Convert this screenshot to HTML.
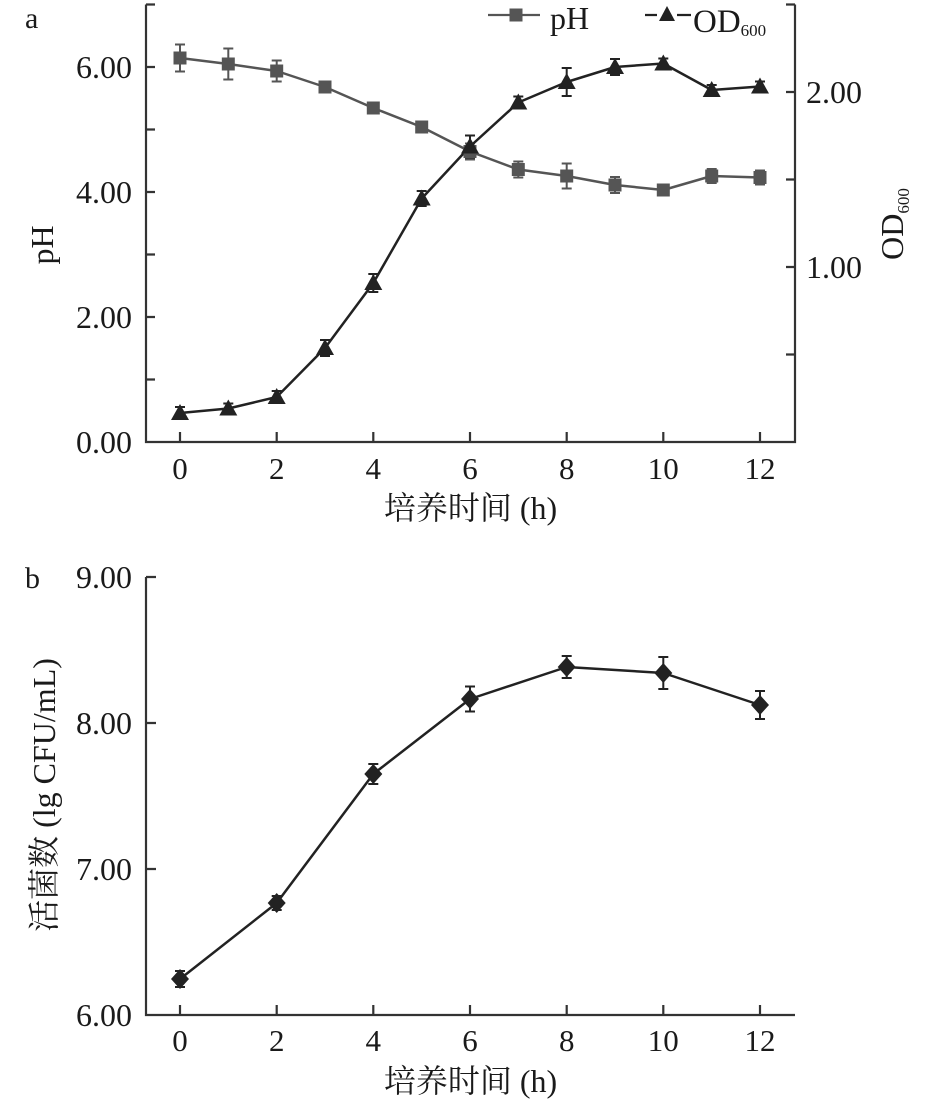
<!DOCTYPE html>
<html>
<head>
<meta charset="utf-8">
<style>
  html, body { margin: 0; padding: 0; background: #ffffff; }
  body { width: 945px; height: 1104px; overflow: hidden; }
  svg { display: block; }
  text { font-family: "Liberation Serif", "Noto Serif CJK SC", serif; fill: #1a1a1a; }
</style>
</head>
<body>
<svg width="945" height="1104" viewBox="0 0 945 1104" xmlns="http://www.w3.org/2000/svg">
  <rect width="945" height="1104" fill="#fff"/>

  <!-- ================= Chart a ================= -->
  <text x="25" y="28" font-size="30">a</text>

  <!-- axes -->
  <g stroke="#333" stroke-width="2.2" fill="none">
    <path d="M146,4.5 V442 H795 V4.5"/>
    <path d="M146,4.5 h9 M146,67 h9 M146,129.5 h9 M146,192 h9 M146,254.5 h9 M146,317 h9 M146,379.5 h9"/>
    <path d="M795,4.5 h-9 M795,92 h-9 M795,179.5 h-9 M795,267 h-9 M795,354.5 h-9"/>
    <path d="M180,442 v-10 M276.7,442 v-10 M373.3,442 v-10 M470,442 v-10 M566.7,442 v-10 M663.3,442 v-10 M760,442 v-10"/>
  </g>

  <g font-size="32" text-anchor="end">
    <text x="132" y="78">6.00</text>
    <text x="132" y="203">4.00</text>
    <text x="132" y="328">2.00</text>
    <text x="132" y="453">0.00</text>
  </g>
  <g font-size="32" text-anchor="start">
    <text x="806" y="103">2.00</text>
    <text x="806" y="278">1.00</text>
  </g>
  <g font-size="31" text-anchor="middle">
    <text x="180" y="479">0</text>
    <text x="276.7" y="479">2</text>
    <text x="373.3" y="479">4</text>
    <text x="470" y="479">6</text>
    <text x="566.7" y="479">8</text>
    <text x="663.3" y="479">10</text>
    <text x="760" y="479">12</text>
  </g>
  <text x="470.5" y="519" font-size="32" text-anchor="middle">培养时间 (h)</text>

  <text transform="translate(53,245) rotate(-90)" font-size="32" text-anchor="middle">pH</text>
  <text transform="translate(903,224) rotate(-90)" font-size="32" text-anchor="middle">OD<tspan font-size="17" dy="6">600</tspan></text>

  <!-- legend -->
  <g>
    <path d="M488,15 H540" stroke="#555" stroke-width="2.2"/>
    <rect x="509.5" y="8.5" width="13" height="13" fill="#555"/>
    <text x="550" y="29" font-size="32">pH</text>
    <path d="M645,15 H657 M677,15 H691" stroke="#222" stroke-width="2.2"/>
    <path d="M667,6 L675,21 L659,21 Z" fill="#222"/>
    <text x="693" y="32" font-size="33">OD<tspan font-size="17" dy="4">600</tspan></text>
  </g>

  <!-- pH error bars -->
  <path stroke="#555" stroke-width="2" fill="none" d="
    M180,44.5 V71.5 M175,44.5 h10 M175,71.5 h10
    M228.3,48.5 V79.5 M223.3,48.5 h10 M223.3,79.5 h10
    M276.7,60.5 V81.5 M271.7,60.5 h10 M271.7,81.5 h10
    M325,82 V92 M320,82 h10 M320,92 h10
    M373.3,104 V112 M368.3,104 h10 M368.3,112 h10
    M421.7,124 V130 M416.7,124 h10 M416.7,130 h10
    M470,143.5 V159.5 M465,143.5 h10 M465,159.5 h10
    M518.3,161.5 V177.5 M513.3,161.5 h10 M513.3,177.5 h10
    M566.7,163.5 V188.5 M561.7,163.5 h10 M561.7,188.5 h10
    M615,177 V193 M610,177 h10 M610,193 h10
    M663.3,185 V195 M658.3,185 h10 M658.3,195 h10
    M711.7,169 V183 M706.7,169 h10 M706.7,183 h10
    M760,170.5 V184.5 M755,170.5 h10 M755,184.5 h10"/>

  <!-- OD error bars -->
  <path stroke="#222" stroke-width="2" fill="none" d="
    M180,407 V419 M175,407 h10 M175,419 h10
    M228.3,403.5 V413.5 M223.3,403.5 h10 M223.3,413.5 h10
    M276.7,391 V403 M271.7,391 h10 M271.7,403 h10
    M325,340 V356 M320,340 h10 M320,356 h10
    M373.3,274 V292 M368.3,274 h10 M368.3,292 h10
    M421.7,191 V206 M416.7,191 h10 M416.7,206 h10
    M470,135.5 V157.5 M465,135.5 h10 M465,157.5 h10
    M518.3,96.5 V108.5 M513.3,96.5 h10 M513.3,108.5 h10
    M566.7,68 V96 M561.7,68 h10 M561.7,96 h10
    M615,59 V75 M610,59 h10 M610,75 h10
    M663.3,58.5 V68.5 M658.3,58.5 h10 M658.3,68.5 h10
    M711.7,85 V95 M706.7,85 h10 M706.7,95 h10
    M760,81.5 V91.5 M755,81.5 h10 M755,91.5 h10"/>

  <polyline fill="none" stroke="#555" stroke-width="2.5" stroke-linejoin="round"
    points="180,58 228.3,64 276.7,71 325,87 373.3,108 421.7,127 470,151.5 518.3,169.5 566.7,176 615,185 663.3,190 711.7,176 760,177.5"/>
  <polyline fill="none" stroke="#222" stroke-width="2.5" stroke-linejoin="round"
    points="180,413 228.3,408.5 276.7,397 325,348 373.3,283 421.7,198.5 470,146.5 518.3,102.5 566.7,82 615,67 663.3,63.5 711.7,90 760,86.5"/>

  <g fill="#555">
    <rect x="173.5" y="51.5" width="13" height="13"/>
    <rect x="221.8" y="57.5" width="13" height="13"/>
    <rect x="270.2" y="64.5" width="13" height="13"/>
    <rect x="318.5" y="80.5" width="13" height="13"/>
    <rect x="366.8" y="101.5" width="13" height="13"/>
    <rect x="415.2" y="120.5" width="13" height="13"/>
    <rect x="463.5" y="145" width="13" height="13"/>
    <rect x="511.8" y="163" width="13" height="13"/>
    <rect x="560.2" y="169.5" width="13" height="13"/>
    <rect x="608.5" y="178.5" width="13" height="13"/>
    <rect x="656.8" y="183.5" width="13" height="13"/>
    <rect x="705.2" y="169.5" width="13" height="13"/>
    <rect x="753.5" y="171" width="13" height="13"/>
  </g>
  <g fill="#222">
    <path d="M180,404 L189,420 L171,420 Z"/>
    <path d="M228.3,399.5 L237.3,415.5 L219.3,415.5 Z"/>
    <path d="M276.7,388 L285.7,404 L267.7,404 Z"/>
    <path d="M325,339 L334,355 L316,355 Z"/>
    <path d="M373.3,274 L382.3,290 L364.3,290 Z"/>
    <path d="M421.7,189.5 L430.7,205.5 L412.7,205.5 Z"/>
    <path d="M470,137.5 L479,153.5 L461,153.5 Z"/>
    <path d="M518.3,93.5 L527.3,109.5 L509.3,109.5 Z"/>
    <path d="M566.7,73 L575.7,89 L557.7,89 Z"/>
    <path d="M615,58 L624,74 L606,74 Z"/>
    <path d="M663.3,54.5 L672.3,70.5 L654.3,70.5 Z"/>
    <path d="M711.7,81 L720.7,97 L702.7,97 Z"/>
    <path d="M760,77.5 L769,93.5 L751,93.5 Z"/>
  </g>

  <!-- ================= Chart b ================= -->
  <text x="25" y="588" font-size="30">b</text>

  <g stroke="#333" stroke-width="2.2" fill="none">
    <path d="M146,577 V1015 H795"/>
    <path d="M146,577 h10 M146,723 h10 M146,869 h10"/>
    <path d="M180,1015 v-10 M276.7,1015 v-10 M373.3,1015 v-10 M470,1015 v-10 M566.7,1015 v-10 M663.3,1015 v-10 M760,1015 v-10"/>
  </g>

  <g font-size="32" text-anchor="end">
    <text x="132" y="588">9.00</text>
    <text x="132" y="734">8.00</text>
    <text x="132" y="880">7.00</text>
    <text x="132" y="1026">6.00</text>
  </g>
  <g font-size="31" text-anchor="middle">
    <text x="180" y="1051">0</text>
    <text x="276.7" y="1051">2</text>
    <text x="373.3" y="1051">4</text>
    <text x="470" y="1051">6</text>
    <text x="566.7" y="1051">8</text>
    <text x="663.3" y="1051">10</text>
    <text x="760" y="1051">12</text>
  </g>
  <text x="470.5" y="1092" font-size="32" text-anchor="middle">培养时间 (h)</text>
  <text transform="translate(55,795) rotate(-90)" font-size="32" text-anchor="middle">活菌数 (lg CFU/mL)</text>

  <path stroke="#222" stroke-width="2" fill="none" d="
    M180,971 V987 M175,971 h10 M175,987 h10
    M276.7,896 V910 M271.7,896 h10 M271.7,910 h10
    M373.3,764 V784 M368.3,764 h10 M368.3,784 h10
    M470,686.5 V711.5 M465,686.5 h10 M465,711.5 h10
    M566.7,656 V678 M561.7,656 h10 M561.7,678 h10
    M663.3,657 V689 M658.3,657 h10 M658.3,689 h10
    M760,691 V719 M755,691 h10 M755,719 h10"/>

  <polyline fill="none" stroke="#222" stroke-width="2.5" stroke-linejoin="round"
    points="180,979 276.7,903 373.3,774 470,699 566.7,667 663.3,673 760,705"/>

  <g fill="#222">
    <path d="M180,969 L189,979 L180,989 L171,979 Z"/>
    <path d="M276.7,893 L285.7,903 L276.7,913 L267.7,903 Z"/>
    <path d="M373.3,764 L382.3,774 L373.3,784 L364.3,774 Z"/>
    <path d="M470,689 L479,699 L470,709 L461,699 Z"/>
    <path d="M566.7,657 L575.7,667 L566.7,677 L557.7,667 Z"/>
    <path d="M663.3,663 L672.3,673 L663.3,683 L654.3,673 Z"/>
    <path d="M760,695 L769,705 L760,715 L751,705 Z"/>
  </g>
</svg>
</body>
</html>
